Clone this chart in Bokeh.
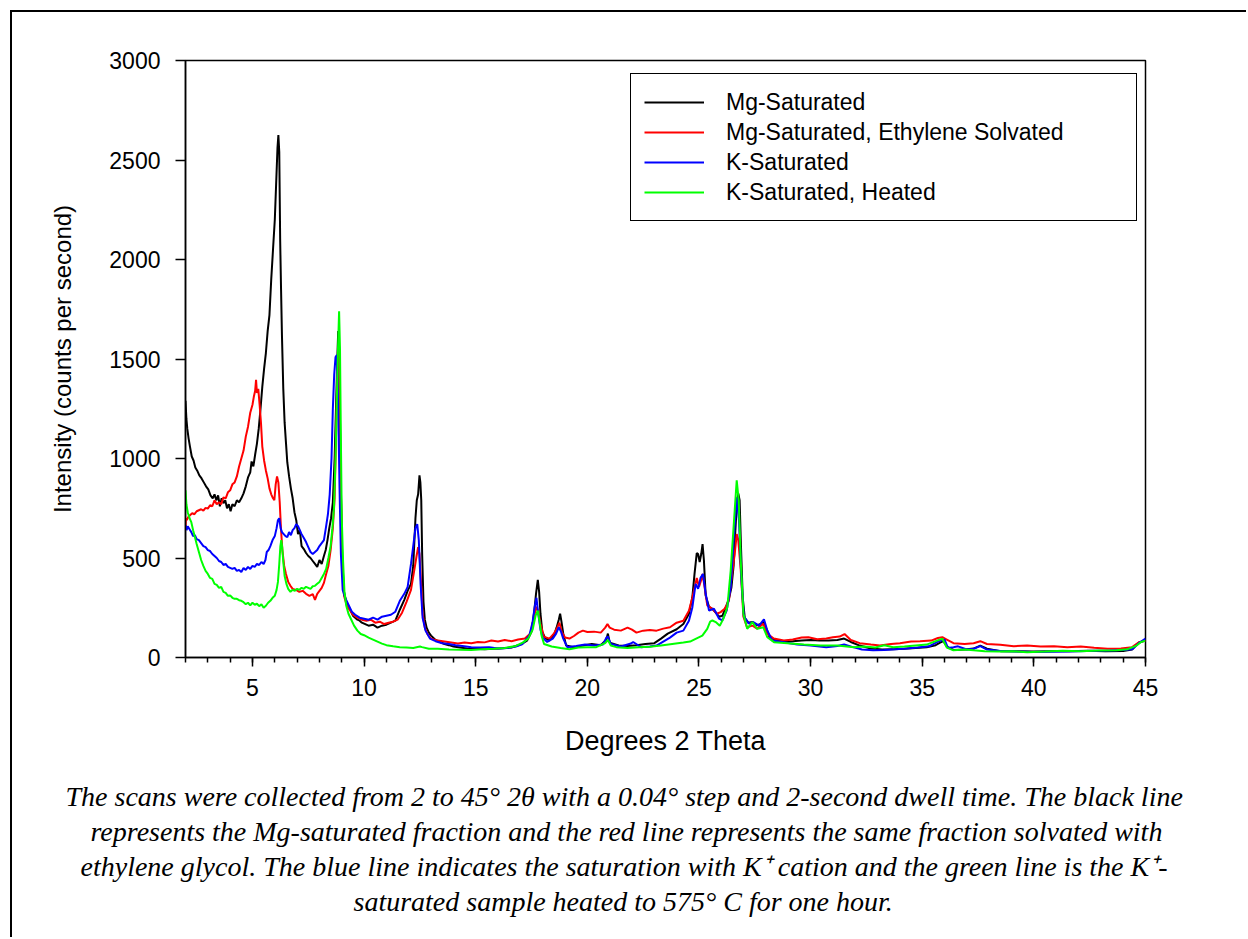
from bokeh.plotting import figure
from bokeh.models import FixedTicker, Legend, LegendItem, Title
from bokeh.embed import file_html
from bokeh.resources import INLINE

# ---------------- data (2-theta degrees, counts per second) ----------------
series_names = ["Mg-Saturated", "Mg-Saturated, Ethylene Solvated",
                "K-Saturated", "K-Saturated, Heated"]
series_colors = ["#000000", "#ff0000", "#0000ff", "#00ff00"]

x_ticks = [5, 10, 15, 20, 25, 30, 35, 40, 45]
x_minor = list(range(2, 46))
y_ticks = [0, 500, 1000, 1500, 2000, 2500, 3000]

mg_sat = [
    (2.00, 1290), (2.04, 1200), (2.08, 1150), (2.14, 1100), (2.20, 1060), (2.28, 1010),
    (2.36, 990), (2.44, 955), (2.52, 940), (2.62, 915), (2.72, 900), (2.82, 880),
    (2.92, 860), (3.02, 845), (3.12, 815), (3.22, 800), (3.30, 820), (3.38, 790),
    (3.46, 815), (3.54, 760), (3.62, 800), (3.70, 775), (3.78, 790), (3.86, 750),
    (3.94, 770), (4.02, 735), (4.10, 770), (4.20, 760), (4.30, 790), (4.40, 780),
    (4.50, 800), (4.60, 825), (4.70, 860), (4.80, 905), (4.90, 930), (4.96, 985),
    (5.04, 960), (5.12, 1020), (5.20, 1075), (5.28, 1150), (5.36, 1250), (5.44, 1360),
    (5.52, 1450), (5.60, 1530), (5.68, 1640), (5.76, 1720), (5.84, 1900), (5.92, 2050),
    (6.00, 2200), (6.06, 2380), (6.12, 2560), (6.16, 2625), (6.20, 2540), (6.24, 2100),
    (6.28, 1850), (6.32, 1620), (6.38, 1350), (6.44, 1180), (6.50, 1080), (6.56, 980),
    (6.64, 910), (6.72, 850), (6.80, 800), (6.88, 730), (6.96, 690), (7.04, 620),
    (7.12, 640), (7.20, 560), (7.30, 545), (7.40, 525), (7.50, 510), (7.60, 500),
    (7.70, 485), (7.80, 470), (7.90, 455), (8.00, 490), (8.10, 470), (8.20, 510),
    (8.28, 540), (8.36, 590), (8.44, 650), (8.52, 700), (8.60, 780), (8.68, 1000),
    (8.74, 1250), (8.80, 1500), (8.84, 1640), (8.88, 1560), (8.92, 1200), (8.96, 850),
    (9.02, 500), (9.10, 330), (9.20, 280), (9.30, 250), (9.40, 235), (9.50, 210),
    (9.60, 200), (9.70, 190), (9.80, 185), (9.90, 175), (10.0, 170), (10.2, 160),
    (10.4, 165), (10.6, 150), (10.8, 160), (11.0, 165), (11.2, 175), (11.4, 185),
    (11.6, 240), (11.8, 290), (11.95, 335), (12.1, 370), (12.2, 460), (12.3, 700),
    (12.36, 790), (12.42, 820), (12.48, 915), (12.52, 880), (12.56, 790), (12.6, 520),
    (12.66, 280), (12.72, 190), (12.8, 150), (12.9, 125), (13.0, 110), (13.2, 88),
    (13.4, 78), (13.6, 68), (13.8, 62), (14.0, 55), (14.3, 50), (14.6, 45),
    (15.0, 44), (15.4, 42), (15.8, 44), (16.2, 46), (16.6, 50), (17.0, 65),
    (17.3, 85), (17.5, 130), (17.62, 230), (17.7, 320), (17.78, 390), (17.84, 330),
    (17.9, 220), (17.98, 130), (18.1, 100), (18.3, 85), (18.5, 110), (18.62, 150),
    (18.72, 190), (18.78, 220), (18.84, 180), (18.92, 120), (19.05, 60), (19.4, 52),
    (19.8, 60), (20.2, 68), (20.6, 62), (20.85, 90), (20.92, 120), (21.0, 75),
    (21.4, 60), (21.8, 58), (22.2, 62), (22.6, 68), (23.0, 72), (23.3, 95),
    (23.6, 120), (24.0, 142), (24.3, 168), (24.55, 220), (24.7, 300), (24.8, 420),
    (24.9, 525), (24.96, 520), (25.03, 480), (25.1, 520), (25.16, 570), (25.22, 490),
    (25.3, 310), (25.45, 255), (25.6, 245), (25.75, 225), (25.9, 205), (26.05, 210),
    (26.2, 250), (26.35, 300), (26.45, 350), (26.55, 460), (26.62, 620), (26.7, 780),
    (26.76, 825), (26.82, 790), (26.88, 560), (26.96, 300), (27.05, 200), (27.2, 175),
    (27.4, 178), (27.6, 162), (27.8, 170), (27.9, 178), (28.0, 150), (28.15, 105),
    (28.4, 88), (28.8, 80), (29.2, 82), (29.6, 85), (30.0, 88), (30.4, 86),
    (30.8, 85), (31.2, 88), (31.5, 95), (31.8, 78), (32.2, 60), (32.7, 45),
    (33.2, 40), (33.7, 42), (34.2, 44), (34.7, 48), (35.2, 52), (35.6, 62),
    (35.8, 75), (35.95, 82), (36.1, 55), (36.4, 38), (36.9, 40), (37.3, 45),
    (37.6, 60), (37.9, 44), (38.5, 32), (39.2, 32), (40.0, 30), (40.8, 32),
    (41.6, 31), (42.4, 34), (43.2, 32), (44.0, 33), (44.4, 40), (44.7, 75), (45.0, 85),
]

mg_eg = [
    (2.00, 650), (2.02, 700), (2.06, 690), (2.12, 705), (2.20, 715), (2.30, 725),
    (2.40, 720), (2.50, 735), (2.60, 740), (2.70, 745), (2.80, 738), (2.90, 752),
    (3.00, 748), (3.10, 765), (3.20, 760), (3.30, 790), (3.40, 770), (3.50, 780),
    (3.60, 770), (3.70, 805), (3.80, 800), (3.90, 830), (4.00, 840), (4.10, 870),
    (4.20, 880), (4.30, 910), (4.40, 960), (4.50, 1000), (4.60, 1040), (4.70, 1110),
    (4.80, 1160), (4.90, 1230), (5.00, 1270), (5.06, 1310), (5.12, 1340), (5.16, 1395),
    (5.20, 1330), (5.26, 1350), (5.32, 1270), (5.38, 1180), (5.44, 1060), (5.52, 990),
    (5.60, 940), (5.68, 900), (5.76, 850), (5.84, 820), (5.92, 800), (5.98, 790),
    (6.04, 870), (6.10, 910), (6.16, 880), (6.22, 780), (6.28, 640), (6.34, 540),
    (6.42, 460), (6.50, 420), (6.60, 380), (6.70, 360), (6.80, 345), (6.95, 340),
    (7.10, 330), (7.25, 335), (7.40, 320), (7.55, 310), (7.70, 318), (7.80, 290),
    (7.90, 320), (8.00, 335), (8.10, 350), (8.20, 375), (8.30, 420), (8.40, 460),
    (8.50, 540), (8.60, 650), (8.68, 800), (8.74, 1100), (8.80, 1400), (8.85, 1560),
    (8.90, 1300), (8.95, 900), (9.02, 480), (9.10, 310), (9.20, 270), (9.35, 240),
    (9.50, 215), (9.70, 200), (9.90, 190), (10.1, 185), (10.3, 190), (10.5, 175),
    (10.7, 180), (10.9, 168), (11.1, 175), (11.3, 180), (11.5, 190), (11.7, 225),
    (11.9, 280), (12.1, 340), (12.25, 440), (12.35, 510), (12.42, 555), (12.48, 520),
    (12.55, 380), (12.62, 220), (12.72, 150), (12.85, 115), (13.0, 95), (13.3, 85),
    (13.6, 80), (13.9, 75), (14.2, 70), (14.5, 75), (14.8, 72), (15.1, 78),
    (15.4, 76), (15.7, 85), (16.0, 80), (16.3, 88), (16.6, 82), (16.9, 90),
    (17.2, 95), (17.45, 120), (17.6, 200), (17.72, 255), (17.8, 230), (17.9, 170),
    (18.05, 105), (18.3, 95), (18.5, 120), (18.65, 150), (18.75, 175), (18.85, 130),
    (19.0, 100), (19.2, 95), (19.4, 108), (19.6, 125), (19.8, 135), (20.0, 128),
    (20.3, 130), (20.6, 125), (20.8, 150), (20.9, 168), (21.0, 150), (21.2, 140),
    (21.5, 135), (21.8, 150), (22.0, 140), (22.2, 125), (22.5, 135), (22.8, 138),
    (23.1, 135), (23.4, 145), (23.7, 152), (24.0, 175), (24.3, 185), (24.55, 235),
    (24.7, 300), (24.82, 360), (24.9, 400), (25.0, 355), (25.1, 390), (25.16, 420),
    (25.25, 355), (25.37, 262), (25.6, 245), (25.8, 220), (25.97, 228), (26.15, 245),
    (26.34, 285), (26.48, 420), (26.6, 520), (26.69, 620), (26.76, 590), (26.87, 440),
    (26.99, 205), (27.15, 152), (27.4, 160), (27.6, 145), (27.88, 170), (28.05, 120),
    (28.35, 95), (28.8, 85), (29.2, 90), (29.6, 100), (29.9, 102), (30.3, 92),
    (30.7, 96), (31.0, 102), (31.3, 105), (31.52, 118), (31.8, 88), (32.2, 72),
    (32.7, 65), (33.1, 60), (33.6, 68), (34.0, 72), (34.5, 80), (34.9, 82),
    (35.4, 85), (35.7, 98), (35.9, 102), (36.1, 90), (36.4, 72), (36.9, 68),
    (37.3, 72), (37.6, 82), (37.9, 68), (38.5, 64), (39.1, 57), (39.7, 60),
    (40.3, 55), (40.9, 57), (41.5, 52), (42.1, 55), (42.7, 49), (43.3, 44),
    (43.9, 45), (44.4, 52), (44.7, 76), (45.0, 85),
]

k_sat = [
    (2.00, 665), (2.05, 640), (2.10, 660), (2.18, 645), (2.26, 630), (2.34, 610),
    (2.42, 615), (2.50, 595), (2.60, 590), (2.70, 575), (2.80, 560), (2.90, 555),
    (3.00, 540), (3.10, 535), (3.20, 520), (3.30, 510), (3.40, 500), (3.50, 485),
    (3.60, 480), (3.70, 465), (3.80, 470), (3.90, 455), (4.00, 450), (4.10, 445),
    (4.20, 450), (4.30, 435), (4.40, 440), (4.50, 430), (4.60, 450), (4.70, 440),
    (4.80, 455), (4.90, 445), (5.00, 460), (5.10, 455), (5.20, 470), (5.30, 465),
    (5.40, 480), (5.50, 470), (5.58, 490), (5.64, 530), (5.72, 540), (5.80, 560),
    (5.90, 590), (6.00, 610), (6.08, 650), (6.14, 690), (6.20, 700), (6.26, 650),
    (6.32, 630), (6.40, 620), (6.48, 610), (6.56, 605), (6.64, 630), (6.72, 615),
    (6.80, 640), (6.88, 650), (6.96, 670), (7.04, 660), (7.12, 640), (7.20, 620),
    (7.30, 600), (7.40, 580), (7.50, 555), (7.60, 530), (7.70, 520), (7.80, 530),
    (7.90, 540), (8.00, 560), (8.10, 575), (8.20, 590), (8.30, 660), (8.38, 720),
    (8.46, 820), (8.54, 1000), (8.60, 1250), (8.66, 1420), (8.72, 1510), (8.78, 1520),
    (8.84, 1250), (8.90, 850), (8.96, 520), (9.04, 340), (9.15, 300), (9.30, 265),
    (9.45, 230), (9.60, 215), (9.80, 200), (10.0, 195), (10.2, 190), (10.4, 200),
    (10.6, 190), (10.8, 205), (11.0, 210), (11.2, 215), (11.4, 230), (11.6, 285),
    (11.8, 320), (11.95, 355), (12.1, 470), (12.2, 560), (12.3, 650), (12.38, 670),
    (12.45, 590), (12.53, 370), (12.62, 200), (12.75, 135), (12.95, 95), (13.2, 82),
    (13.5, 72), (13.8, 68), (14.1, 62), (14.4, 58), (14.8, 52), (15.2, 50),
    (15.6, 52), (16.0, 45), (16.4, 48), (16.8, 55), (17.1, 68), (17.4, 110),
    (17.55, 180), (17.65, 260), (17.72, 300), (17.8, 220), (17.9, 140), (18.0, 100),
    (18.2, 78), (18.45, 95), (18.6, 120), (18.72, 152), (18.82, 130), (18.92, 95),
    (19.1, 52), (19.5, 58), (19.9, 65), (20.3, 60), (20.7, 65), (20.85, 100),
    (20.92, 105), (21.05, 68), (21.5, 55), (21.95, 70), (22.05, 78), (22.4, 52),
    (22.8, 55), (23.1, 60), (23.4, 80), (23.7, 100), (24.0, 125), (24.3, 135),
    (24.55, 185), (24.7, 250), (24.85, 370), (24.96, 345), (25.07, 400), (25.18, 420),
    (25.3, 320), (25.45, 236), (25.67, 245), (25.9, 195), (26.04, 186), (26.24, 236),
    (26.42, 353), (26.57, 620), (26.69, 805), (26.79, 690), (26.9, 390), (27.01, 205),
    (27.24, 170), (27.43, 178), (27.69, 160), (27.91, 192), (28.06, 136), (28.28, 85),
    (28.8, 77), (29.4, 65), (30.0, 60), (30.7, 52), (31.2, 58), (31.5, 65),
    (31.9, 52), (32.3, 40), (32.8, 36), (33.3, 38), (33.8, 42), (34.3, 45),
    (34.8, 50), (35.3, 56), (35.7, 80), (36.0, 90), (36.15, 48), (36.4, 52),
    (36.6, 56), (37.0, 40), (37.3, 44), (37.6, 57), (37.9, 40), (38.5, 33),
    (39.2, 30), (39.9, 28), (40.6, 29), (41.3, 30), (42.0, 32), (42.7, 34),
    (43.4, 35), (44.0, 38), (44.4, 42), (44.7, 72), (45.0, 95),
]

k_heated = [
    (2.00, 840), (2.04, 770), (2.10, 730), (2.18, 700), (2.26, 680), (2.34, 640),
    (2.42, 605), (2.50, 570), (2.60, 530), (2.70, 490), (2.80, 460), (2.90, 435),
    (3.00, 420), (3.10, 400), (3.20, 395), (3.30, 370), (3.40, 365), (3.50, 350),
    (3.60, 355), (3.70, 330), (3.80, 325), (3.90, 310), (4.00, 312), (4.10, 300),
    (4.20, 295), (4.30, 295), (4.40, 288), (4.50, 285), (4.60, 278), (4.70, 268),
    (4.80, 275), (4.90, 262), (5.00, 275), (5.10, 265), (5.20, 270), (5.30, 258),
    (5.40, 268), (5.50, 250), (5.60, 260), (5.70, 275), (5.80, 285), (5.90, 300),
    (6.00, 310), (6.08, 340), (6.14, 380), (6.20, 470), (6.25, 560), (6.29, 590),
    (6.33, 555), (6.38, 480), (6.44, 410), (6.52, 370), (6.60, 345), (6.70, 330),
    (6.80, 340), (6.90, 335), (7.00, 345), (7.10, 340), (7.20, 350), (7.30, 345),
    (7.40, 355), (7.50, 350), (7.60, 345), (7.70, 358), (7.80, 360), (7.90, 370),
    (8.00, 380), (8.10, 400), (8.20, 420), (8.30, 445), (8.40, 500), (8.50, 560),
    (8.58, 650), (8.65, 750), (8.72, 1000), (8.78, 1300), (8.83, 1550), (8.88, 1740),
    (8.92, 1550), (8.96, 1100), (9.00, 700), (9.06, 480), (9.12, 330), (9.20, 260),
    (9.30, 220), (9.40, 196), (9.55, 160), (9.70, 135), (9.85, 118), (10.0, 112),
    (10.2, 100), (10.4, 90), (10.6, 80), (10.8, 70), (11.0, 62), (11.3, 56),
    (11.6, 52), (11.9, 50), (12.2, 48), (12.5, 55), (12.6, 52), (12.9, 44),
    (13.3, 44), (13.8, 40), (14.3, 39), (14.8, 38), (15.3, 42), (15.8, 44),
    (16.3, 48), (16.8, 58), (17.1, 75), (17.35, 95), (17.55, 140), (17.68, 210),
    (17.78, 236), (17.86, 180), (17.95, 110), (18.06, 68), (18.4, 55), (18.8, 48),
    (19.2, 42), (19.6, 50), (20.0, 52), (20.4, 52), (20.8, 72), (20.92, 88),
    (21.05, 60), (21.3, 52), (21.8, 48), (22.3, 52), (22.8, 54), (23.3, 60),
    (23.8, 68), (24.3, 75), (24.6, 80), (24.85, 94), (25.15, 110), (25.37, 144),
    (25.5, 180), (25.6, 186), (25.75, 178), (25.93, 160), (26.09, 194), (26.27, 253),
    (26.42, 437), (26.57, 689), (26.69, 890), (26.78, 790), (26.87, 487), (26.99, 219),
    (27.16, 144), (27.39, 178), (27.61, 144), (27.88, 152), (28.06, 102), (28.36, 77),
    (28.96, 72), (29.7, 65), (30.45, 60), (31.19, 60), (31.94, 52), (32.4, 55),
    (32.9, 50), (33.3, 62), (33.7, 52), (34.2, 55), (34.7, 60), (35.2, 65),
    (35.6, 82), (35.9, 94), (36.1, 50), (36.4, 36), (36.9, 40), (37.3, 36),
    (37.8, 32), (38.4, 30), (39.0, 32), (39.7, 27), (40.5, 30), (41.3, 34),
    (42.1, 32), (42.9, 35), (43.7, 36), (44.2, 42), (44.6, 60), (44.8, 78), (45.0, 85),
]

caption_lines = [
    "The scans were collected from 2 to 45\u00b0 2\u03b8 with a 0.04\u00b0 step and 2-second dwell time. The black line",
    "represents the Mg-saturated fraction and the red line represents the same fraction solvated with",
    "ethylene glycol.  The blue line indicates the saturation with K\u207a cation and the green line is the K\u207a-",
    "saturated sample heated to 575\u00b0 C for one hour.",
]
# horizontal shift of each caption line's left edge relative to the plot frame (px)
caption_offsets = [-120, -95, -105, 168]

# ---------------- chart ----------------
p = figure(width=1236, height=927, x_range=(2, 45), y_range=(0, 3000),
           output_backend="svg", toolbar_location=None,
           min_border_left=173, min_border_right=103,
           min_border_top=48, min_border_bottom=282)
p.styles = {"margin-left": "10px", "margin-top": "10px",
            "border-left": "2px solid black", "border-top": "2px solid black"}

p.xgrid.visible = False
p.ygrid.visible = False
p.outline_line_color = "black"
p.outline_line_width = 1.5
p.outline_line_alpha = 1.0
p.background_fill_color = "white"
p.border_fill_color = "white"

renderers = []
for data, color in zip([mg_sat, mg_eg, k_sat, k_heated], series_colors):
    xs = [d[0] for d in data]
    ys = [d[1] for d in data]
    r = p.line(xs, ys, line_color=color, line_width=2)
    renderers.append(r)

for ax in (p.xaxis[0], p.yaxis[0]):
    ax.axis_line_color = "black"
    ax.axis_line_width = 1.5
    ax.major_tick_line_color = "black"
    ax.major_tick_line_width = 1.5
    ax.minor_tick_line_color = "black"
    ax.minor_tick_line_width = 1.5
    ax.major_tick_in = 0
    ax.minor_tick_in = 0
    ax.major_label_text_font = "Liberation Sans"
    ax.major_label_text_font_size = "23px"
    ax.major_label_text_color = "black"
    ax.axis_label_text_font = "Liberation Sans"
    ax.axis_label_text_font_style = "normal"
    ax.axis_label_text_color = "black"

p.xaxis.ticker = FixedTicker(ticks=x_ticks, minor_ticks=x_minor)
p.xaxis.major_tick_out = 9
p.xaxis.minor_tick_out = 5
p.xaxis.major_label_standoff = 12
p.xaxis.axis_label = "Degrees 2 Theta"
p.xaxis.axis_label_text_font_size = "27px"
p.xaxis.axis_label_standoff = 27

p.yaxis.ticker = FixedTicker(ticks=y_ticks, minor_ticks=[])
p.yaxis.major_tick_out = 10
p.yaxis.minor_tick_out = 0
p.yaxis.major_label_standoff = 15
p.yaxis.axis_label = "Intensity (counts per second)"
p.yaxis.axis_label_text_font_size = "24px"
p.yaxis.axis_label_standoff = 30

legend = Legend(
    items=[LegendItem(label=n, renderers=[r]) for n, r in zip(series_names, renderers)],
    location=(445, 436),
    border_line_color="black", border_line_width=1.5, border_line_alpha=1.0,
    background_fill_color="white", background_fill_alpha=1.0,
    label_text_font="Liberation Sans", label_text_font_size="23px",
    label_text_color="black",
    glyph_width=60, glyph_height=30, label_height=30, label_width=397,
    label_standoff=22, padding=13, spacing=0, margin=0,
)
p.add_layout(legend)

# ---------------- caption (titles stacked below the x axis) ----------------
p.add_layout(Title(text=" ", text_font_size="15px", standoff=0), "below")
for txt, off in zip(caption_lines, caption_offsets):
    p.add_layout(Title(text=txt, align="left", offset=off,
                       text_font="Liberation Serif", text_font_style="italic",
                       text_font_size="28px", text_color="black", standoff=2),
                 "below")

open("out.html", "w").write(file_html(p, INLINE))
